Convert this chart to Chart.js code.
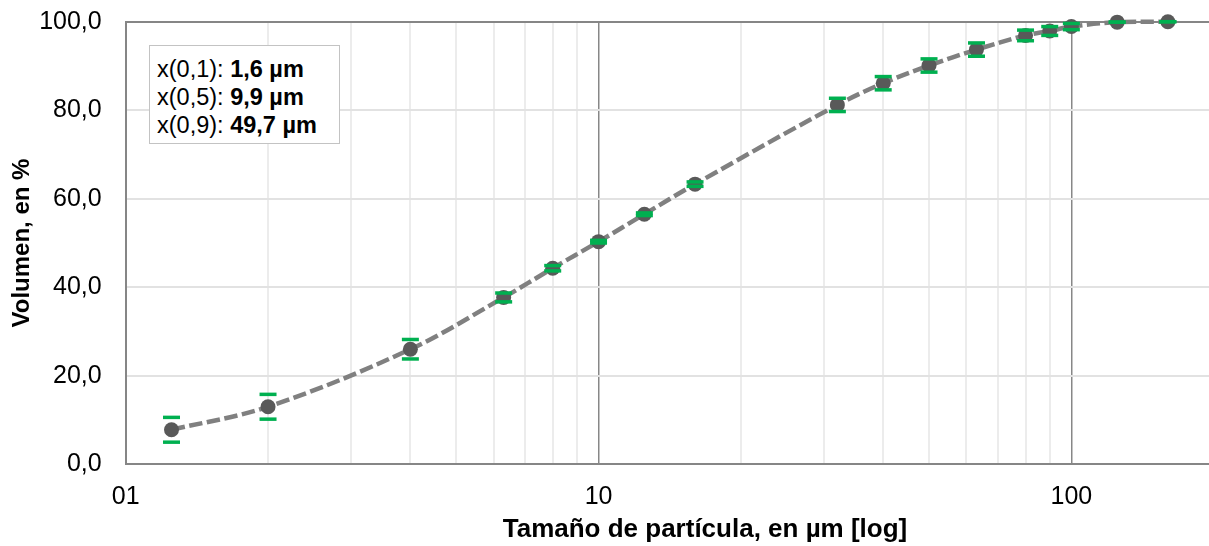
<!DOCTYPE html>
<html>
<head>
<meta charset="utf-8">
<script src="https://cdn.jsdelivr.net/npm/chart.js@4/dist/chart.umd.min.js"></script>
<style>
  html, body { margin: 0; padding: 0; background: #fff; overflow: hidden; width: 1209px; height: 546px; }
  #wrap { position: relative; width: 1240px; height: 546px; }
  #c { position: absolute; left: 0; top: 0; }
  .stats {
    position: absolute; left: 149px; top: 45px; width: 189px; height: 97px;
    border: 1.5px solid #c3c3c3; background: #fff; box-sizing: content-box;
    font-family: "Liberation Sans", Arial, sans-serif; font-size: 23.5px; line-height: 28px;
    color: #000; padding: 0; 
  }
  .stats div { position: absolute; left: 7px; white-space: nowrap; }
  .xtitle {
    position: absolute; left: 705px; top: 513px; transform: translateX(-50%);
    font-family: "Liberation Sans", Arial, sans-serif; font-weight: bold; font-size: 26px;
    color: #000; white-space: nowrap; line-height: 30px;
  }
</style>
</head>
<body>
<div id="wrap">
  <canvas id="c" width="1240" height="546"></canvas>
  <div class="stats">
    <div style="top:9px">x(0,1): <b>1,6 µm</b></div>
    <div style="top:37px">x(0,5): <b>9,9 µm</b></div>
    <div style="top:65px">x(0,9): <b>49,7 µm</b></div>
  </div>
  <div class="xtitle">Tamaño de partícula, en µm [log]</div>
</div>
<script>
// ---- data ----
const particleSizes = [1.25, 2, 4, 6.3, 8, 10, 12.5, 16, 32, 40, 50, 63, 80, 90, 100, 125, 160];
const volumePercent = [7.8, 13.0, 26.0, 37.7, 44.3, 50.3, 56.5, 63.3, 81.2, 86.1, 90.1, 93.7, 96.9, 97.9, 98.9, 99.9, 100.0];
const volumeError   = [2.8, 2.8, 2.2, 1.0, 0.6, 0.3, 0.3, 0.5, 1.5, 1.5, 1.5, 1.5, 1.2, 1.0, 0.7, 0.0, 0.0];
const xMajorTicks = [1, 10, 100];
const xMinorTicks = [2, 3, 4, 5, 6, 7, 8, 9, 20, 30, 40, 50, 60, 70, 80, 90];
const xTickLabels = { 1: '01', 10: '10', 100: '100' };
const xRange = [1, 200];
const yRange = [0, 100];
const yStep = 20;

const FONT = '"Liberation Sans", Arial, sans-serif';
const xGridTicks = xMajorTicks.concat(xMinorTicks).sort((a, b) => a - b);

const mainPts = particleSizes.map((x, i) => ({ x, y: volumePercent[i] }));
const upperPts = particleSizes.map((x, i) => ({ x, y: volumePercent[i] + volumeError[i] }));
const lowerPts = particleSizes.map((x, i) => ({ x, y: volumePercent[i] - volumeError[i] }));

const capStyle = {
  showLine: false, pointStyle: 'line', pointRadius: 8.5, pointHoverRadius: 8.5,
  pointBorderWidth: 3.5, pointBorderColor: '#00B050', pointBackgroundColor: '#00B050',
  borderColor: '#00B050', order: 0, clip: false
};

new Chart(document.getElementById('c'), {
  type: 'line',
  data: {
    datasets: [
      Object.assign({ label: 'upper', data: upperPts }, capStyle),
      Object.assign({ label: 'lower', data: lowerPts }, capStyle),
      {
        label: 'Volumen', data: mainPts, order: 2, clip: false,
        borderColor: '#808080', borderWidth: 4.5, borderDash: [13.5, 4.5],
        tension: 0.35, fill: false,
        pointRadius: 7.5, pointHoverRadius: 7.5, pointBorderWidth: 0,
        pointBackgroundColor: '#595959', pointBorderColor: '#595959'
      }
    ]
  },
  options: {
    responsive: false, animation: false,
    layout: { autoPadding: false, padding: { top: 21.7, right: 26.3, bottom: 0, left: 0 } },
    plugins: { legend: { display: false }, tooltip: { enabled: false } },
    scales: {
      x: {
        type: 'logarithmic', min: xRange[0], max: xRange[1],
        afterBuildTicks: s => { s.ticks = xGridTicks.map(v => ({ value: v, major: xMajorTicks.includes(v) })); },
        afterFit: s => { s.height = 81.7; s.paddingLeft = 0; s.paddingRight = 0; },
        ticks: {
          autoSkip: false, maxRotation: 0, padding: 18, color: '#000',
          font: { family: FONT, size: 25 },
          callback: (v) => xTickLabels[v] !== undefined ? xTickLabels[v] : ''
        },
        grid: {
          drawTicks: false,
          color: c => (c.tick && (c.tick.value === 10 || c.tick.value === 100)) ? '#878787' : '#ececec',
          lineWidth: c => (c.tick && (c.tick.value === 10 || c.tick.value === 100)) ? 1.5 : 2
        },
        border: { display: true, color: '#868686', width: 2 },
        title: { display: false }
      },
      y: {
        min: yRange[0], max: yRange[1],
        afterFit: s => { s.width = 125.7; s.paddingTop = 0; s.paddingBottom = 0; },
        ticks: {
          stepSize: yStep, padding: 24, color: '#000',
          font: { family: FONT, size: 25 },
          callback: v => v.toFixed(1).replace('.', ',')
        },
        grid: {
          drawTicks: false,
          color: c => (c.tick && c.tick.value === 100) ? '#868686' : '#e2e2e2',
          lineWidth: 2
        },
        border: { display: true, color: '#868686', width: 2 },
        title: {
          display: true, text: 'Volumen, en %', color: '#000',
          font: { family: FONT, size: 24, weight: 'bold' },
          padding: { top: 8, bottom: 0 }
        }
      }
    }
  }
});
</script>
</body>
</html>
